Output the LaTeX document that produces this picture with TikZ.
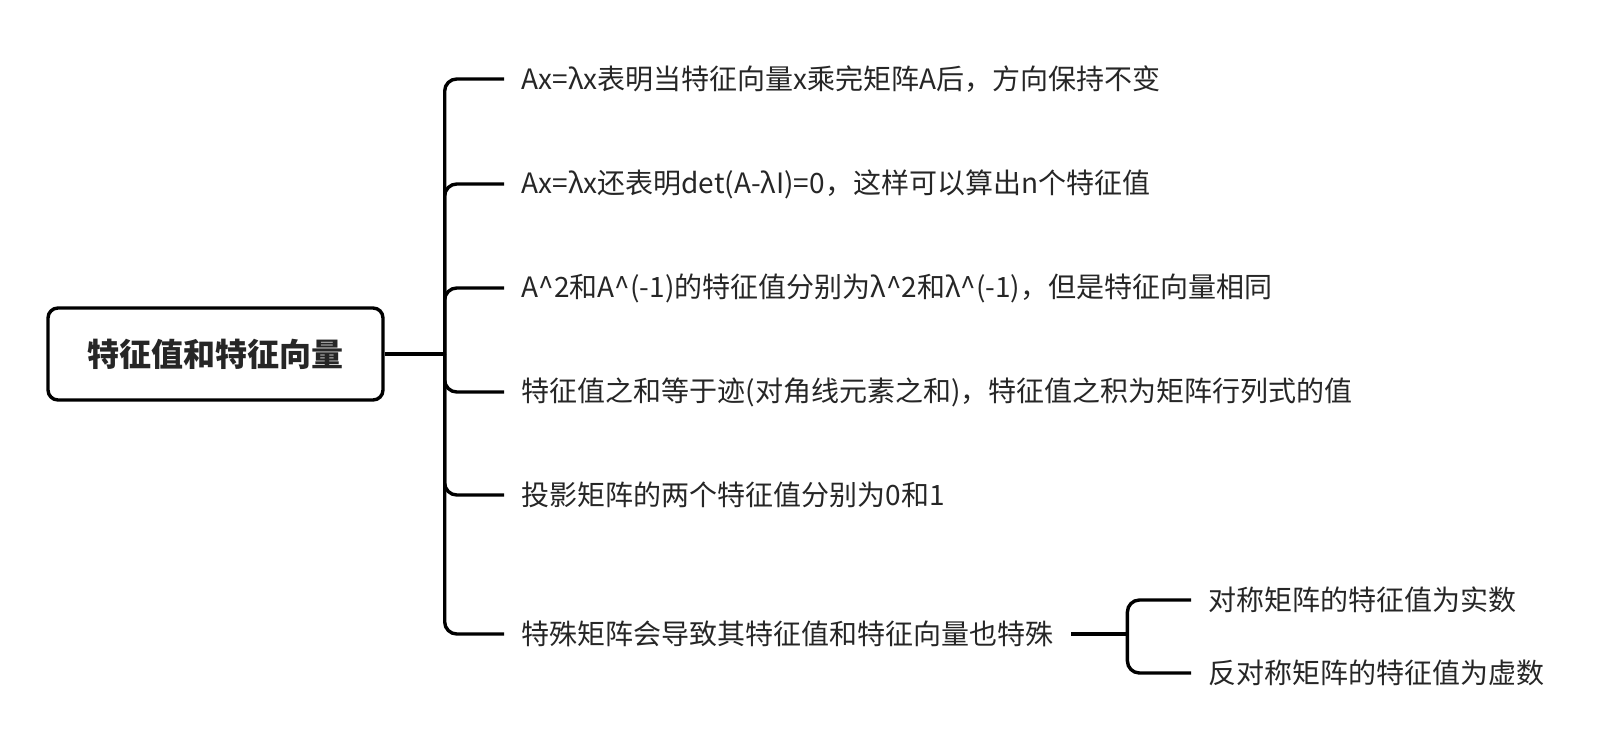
\documentclass[tikz,border=0pt]{standalone}
\usepackage{fontspec}
\setmainfont{Noto Sans CJK SC}

\begin{document}
\begin{tikzpicture}[x=0.5pt, y=-0.5pt, line width=1.7pt,
	every node/.style={font=\fontsize{14}{16}\selectfont, text=black!85},
	topic/.style={draw, rounded corners=5pt, minimum width=167.5pt, minimum height=46pt, font=\fontsize{16}{19}\selectfont\bfseries},
	leaf/.style={anchor=west, inner xsep=8pt},
	branch/.style={rounded corners=6pt}]
	\useasboundingbox (0,0) rectangle (1604,748);
	\node[topic] (root) at (215.5,354) {特征值和特征向量};
	\coordinate (hub) at ([xshift=30pt]root.east);
	\node[leaf] (c1) at (504,79) {Ax=λx表明当特征向量x乘完矩阵A后，方向保持不变};
	\node[leaf] (c2) at (504,184) {Ax=λx还表明det(A-λI)=0，这样可以算出n个特征值};
	\node[leaf] (c3) at (504,288) {A\textasciicircum2和A\textasciicircum(-1)的特征值分别为λ\textasciicircum2和λ\textasciicircum(-1)，但是特征向量相同};
	\node[leaf] (c4) at (504,392) {特征值之和等于迹(对角线元素之和)，特征值之积为矩阵行列式的值};
	\node[leaf] (c5) at (504,495) {投影矩阵的两个特征值分别为0和1};
	\node[leaf] (c6) at (504,634) {特殊矩阵会导致其特征值和特征向量也特殊};
	\coordinate (subhub) at ([xshift=28pt]c6.east);
	\node[leaf] (s1) at (1191,600) {对称矩阵的特征值为实数};
	\node[leaf] (s2) at (1191,673) {反对称矩阵的特征值为虚数};
	\draw (root.east) -- (hub);
	\foreach \i in {1,...,6} {\draw[branch] (hub) |- (c\i.west);}
	\draw (c6.east) -- (subhub);
	\foreach \s in {s1,s2} {\draw[branch] (subhub) |- (\s.west);}
\end{tikzpicture}
\end{document}
